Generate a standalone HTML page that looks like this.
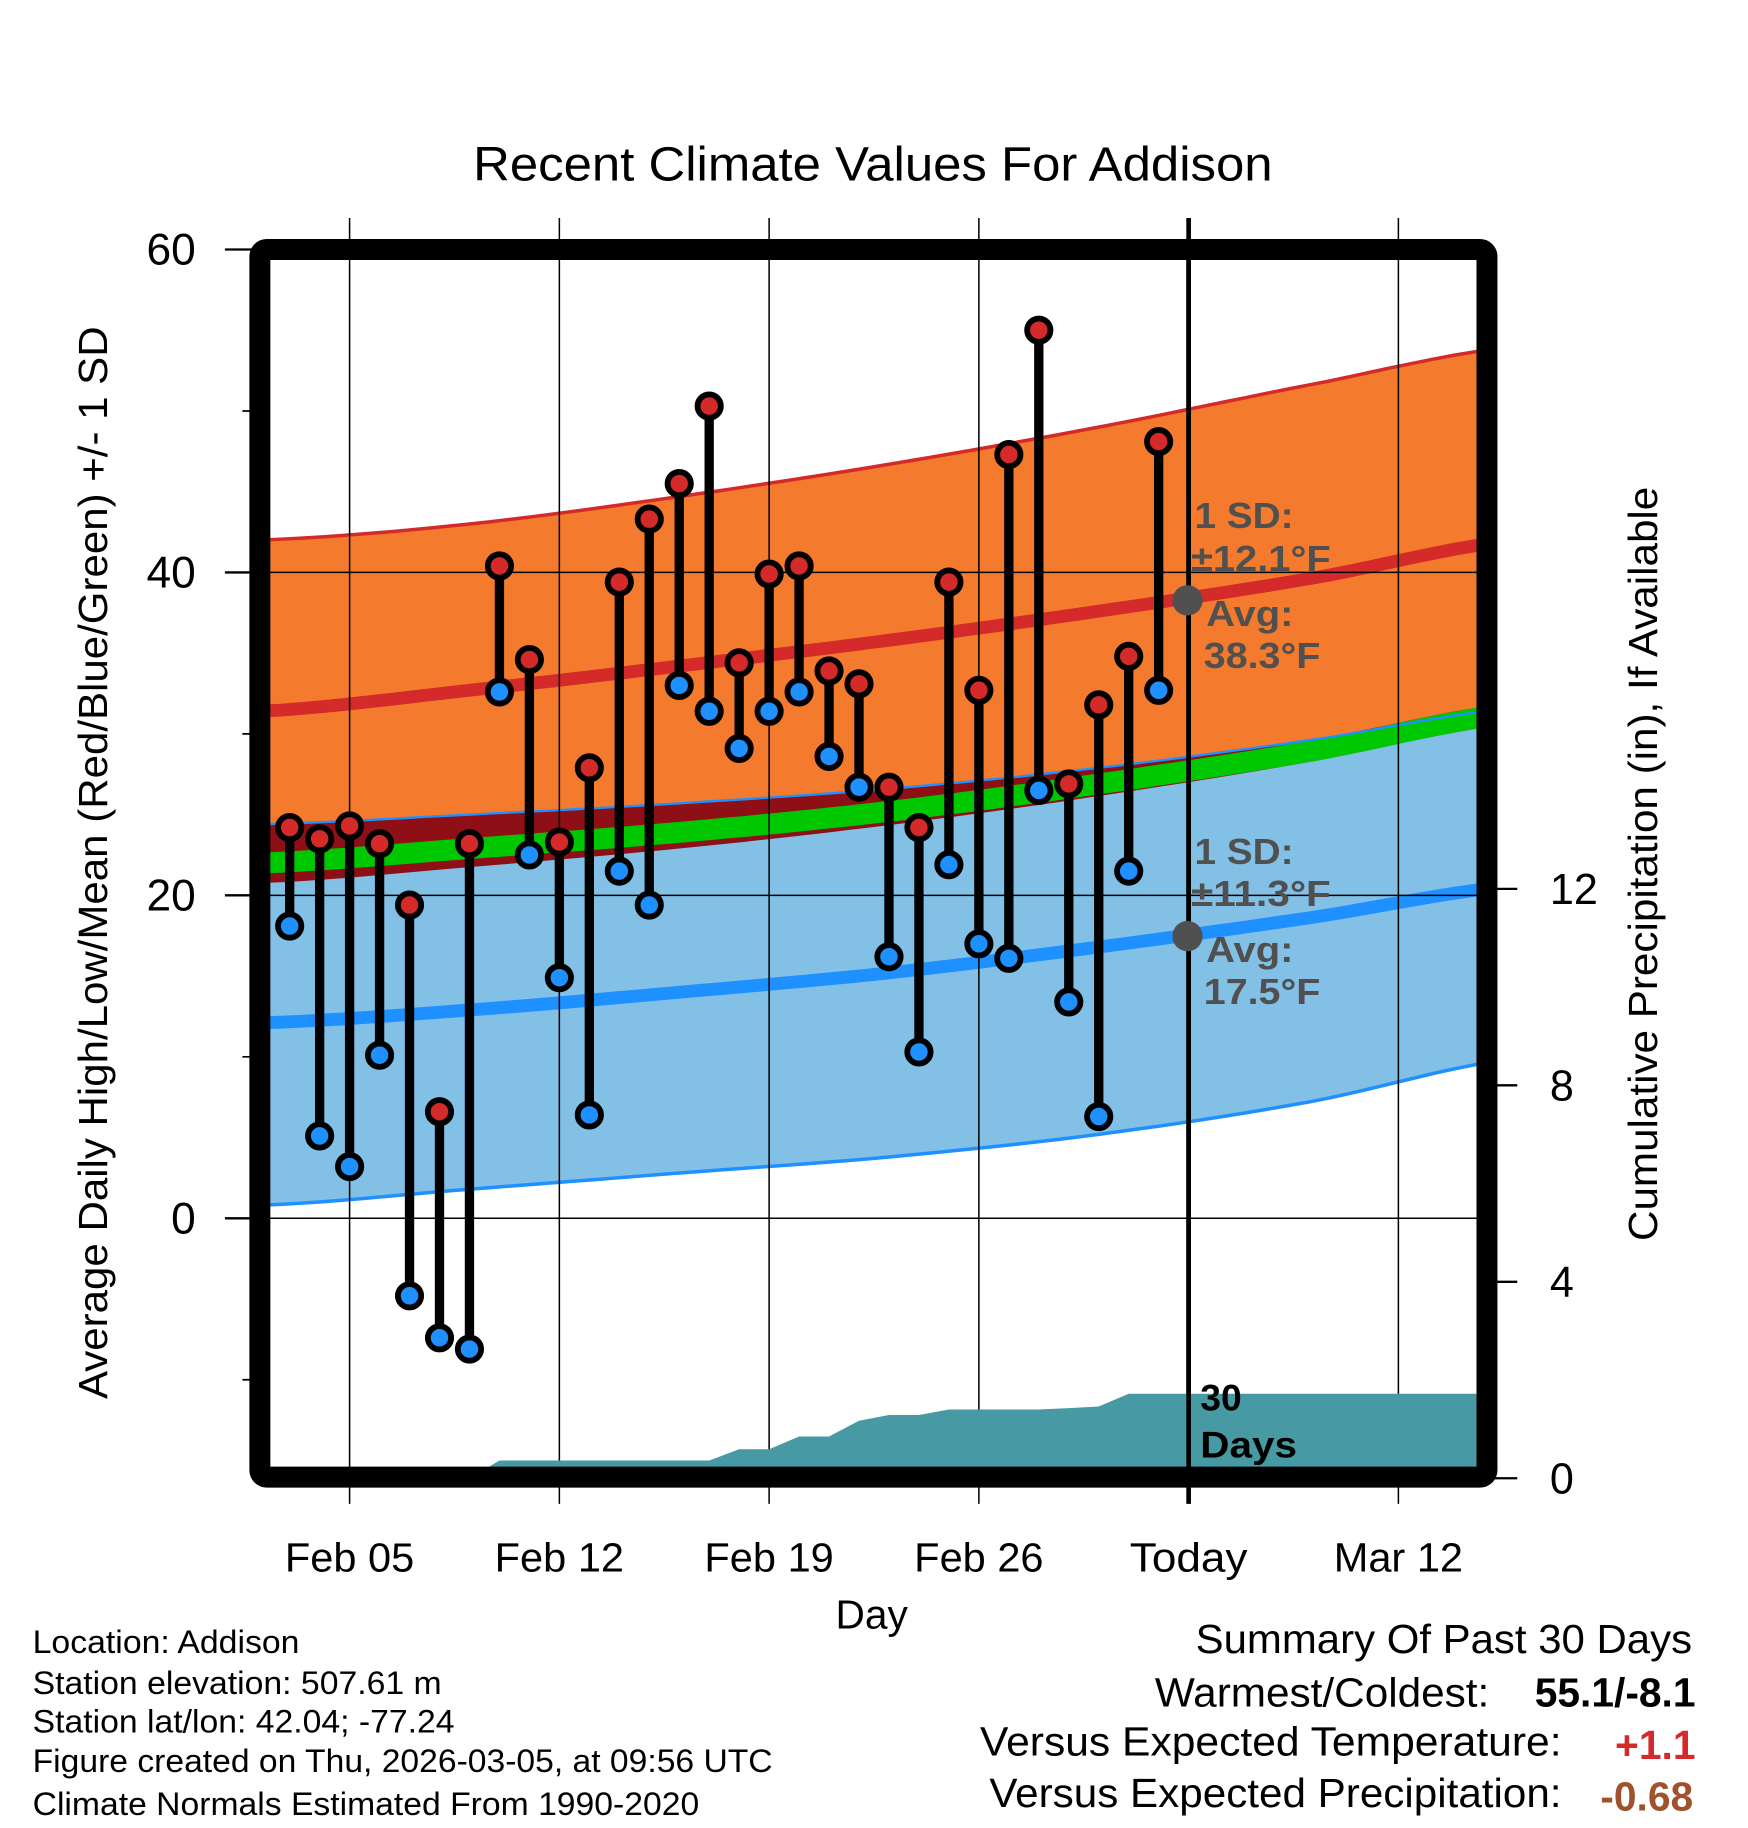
<!DOCTYPE html>
<html><head><meta charset="utf-8"><style>
html,body{margin:0;padding:0;background:#fff;}
svg{display:block;}
text{font-family:"Liberation Sans",Arial,sans-serif;}
</style></head><body>
<svg id="chart" width="1748" height="1828" viewBox="0 0 1500 1568" preserveAspectRatio="none" xmlns="http://www.w3.org/2000/svg">
<defs><clipPath id="plotClip"><rect x="231" y="223" width="1036" height="1036"/></clipPath></defs>
<g id="bands" clip-path="url(#plotClip)"></g>
<g id="grid"></g>
<g id="precip" clip-path="url(#plotClip)"></g>
<g id="marks"></g>
<g id="annot"></g>
<g id="axes"></g>
</svg>
<script>
// ---- data ----
const dayLabels = ["Feb 05","Feb 12","Feb 19","Feb 26","Today","Mar 12"];
const obsDays = [-2,-1,0,1,2,3,4,5,6,7,8,9,10,11,12,13,14,15,16,17,18,19,20,21,22,23,24,25,26,27];
const highs = [24.2,23.5,24.3,23.2,19.4,6.6,23.2,40.4,34.6,23.3,27.9,39.4,43.3,45.5,50.3,34.4,39.9,40.4,33.9,33.1,26.7,24.2,39.4,32.7,47.3,55.0,26.9,31.8,34.8,48.1];
const lows  = [18.1,5.1,3.2,10.1,-4.8,-7.4,-8.1,32.6,22.5,14.9,6.4,21.5,19.4,33.0,31.4,29.1,31.4,32.6,28.6,26.7,16.2,10.3,21.9,17.0,16.1,26.5,13.4,6.3,21.5,32.7];
const precipCum = [0,0,0,0,0,0,0,0.36,0.36,0.36,0.36,0.36,0.36,0.36,0.36,0.59,0.59,0.85,0.85,1.17,1.29,1.29,1.40,1.40,1.40,1.40,1.43,1.46,1.72,1.72];
const normDays = [-3,4,11,18,25,32,39];
const upperHigh = [42.0,43.0,44.7,46.7,49.0,51.6,54.0];
const avgHigh   = [31.4,32.7,34.2,35.8,37.6,39.6,42.0];
const upperLow  = [24.4,25.0,25.7,26.6,27.9,29.6,31.6];
const avgMean   = [22.0,22.9,23.9,25.2,26.9,28.9,31.3];
const meanBandGap = [0.6,0.5,0.35,0.2,0.1,0,0];
const avgLow    = [12.1,12.9,14.0,15.2,16.8,18.6,20.6];
const lowerLow  = [0.8,1.8,2.8,3.8,5.2,7.2,9.9];
const yTicks = [0,20,40,60];
const yMinor = [-10,10,30,50];
const pTicks = [0,4,8,12];

// ---- axes ----
const X = d => 300 + d*25.714;
const Y = t => 1045 - t*13.85;
const P = p => 1268 - p*42.13;
const NS = "http://www.w3.org/2000/svg";
function mk(tag, parent, attrs){const e=document.createElementNS(NS,tag);for(const k in attrs)e.setAttribute(k,attrs[k]);parent.appendChild(e);return e;}
const bands=document.getElementById('bands'),grid=document.getElementById('grid'),precip=document.getElementById('precip'),marks=document.getElementById('marks'),annot=document.getElementById('annot'),axes=document.getElementById('axes');

function smooth(arr){
  const pts=[];
  for(let i=0;i<normDays.length-1;i++){
    const p0=arr[Math.max(0,i-1)],p1=arr[i],p2=arr[i+1],p3=arr[Math.min(arr.length-1,i+2)];
    for(let s=0;s<10;s++){const u=s/10;
      const v=0.5*((2*p1)+(-p0+p2)*u+(2*p0-5*p1+4*p2-p3)*u*u+(-p0+3*p1-3*p2+p3)*u*u*u);
      pts.push([X(normDays[i]+(normDays[i+1]-normDays[i])*u),v]);}
  }
  pts.push([X(normDays[normDays.length-1]),arr[arr.length-1]]);
  return pts;
}
function bandPath(top,bot){const a=smooth(top),b=smooth(bot).reverse();
  return 'M'+a.map(p=>p[0].toFixed(1)+','+Y(p[1]).toFixed(1)).join('L')+'L'+b.map(p=>p[0].toFixed(1)+','+Y(p[1]).toFixed(1)).join('L')+'Z';}
function linePath(arr){return 'M'+smooth(arr).map(p=>p[0].toFixed(1)+','+Y(p[1]).toFixed(1)).join('L');}
const off=(arr,d)=>arr.map(v=>v+d);

let e;
e=mk('path',bands,{d:bandPath(upperHigh,lowerLow),fill:'#f47a2d'});

e=mk('path',bands,{d:bandPath(upperLow,lowerLow),fill:'#82c0e6'});

const redBot = avgMean.map((v,i)=>Math.min(v-0.65-meanBandGap[i],upperLow[i]));
e=mk('path',bands,{d:bandPath(upperLow.map((v,i)=>Math.max(v,avgMean[i]+0.65)),redBot),fill:'#8e0f16'});

e=mk('path',bands,{d:bandPath(off(avgMean,0.65),off(avgMean,-0.65)),fill:'#00c800'});

e=mk('path',bands,{d:linePath(upperLow),fill:'none',stroke:'#1e90ff','stroke-width':2});

e=mk('path',bands,{d:linePath(upperHigh),fill:'none',stroke:'#d42a2a','stroke-width':3});

e=mk('path',bands,{d:linePath(lowerLow),fill:'none',stroke:'#1e90ff','stroke-width':3});

e=mk('path',bands,{d:linePath(avgHigh),fill:'none',stroke:'#d42a2a','stroke-width':11});

e=mk('path',bands,{d:linePath(avgLow),fill:'none',stroke:'#1e90ff','stroke-width':11});


// grid
dayLabels.forEach((lab,i)=>{const x=X(i*7);
  const g=mk('line',grid,{x1:x,x2:x,y1:187,y2:1290,stroke:'#000','stroke-width':i===4?4:1.3});
  
  const t=mk('text',axes,{x:x,y:1348,'font-size':35,'text-anchor':'middle',textLength:(lab==='Today'?101:111),lengthAdjust:'spacingAndGlyphs'});t.textContent=lab;
  
});
yTicks.forEach(v=>{const y=Y(v);
  if(v<60){const g=mk('line',grid,{x1:231,x2:1267,y1:y,y2:y,stroke:'#000','stroke-width':1.3});
  }
  const tk=mk('line',axes,{x1:193,x2:223,y1:y,y2:y,stroke:'#000','stroke-width':2});
  
  const t=mk('text',axes,{x:168,y:y+13,'font-size':38,'text-anchor':'end'});t.textContent=v;
  
});
yMinor.forEach(v=>{const y=Y(v);
  const tk=mk('line',axes,{x1:208,x2:223,y1:y,y2:y,stroke:'#000','stroke-width':1.5});
  });
pTicks.forEach(v=>{const y=P(v);
  const tk=mk('line',axes,{x1:1276,x2:1302,y1:y,y2:y,stroke:'#000','stroke-width':2});
  
  const t=mk('text',axes,{x:1330,y:y+13,'font-size':37}); t.textContent=v;
  });

// precip area
let pd='M231,1268L'+X(obsDays[0]).toFixed(1)+','+P(precipCum[0]).toFixed(1);
obsDays.forEach((d,i)=>{pd+='L'+X(d).toFixed(1)+','+P(precipCum[i]).toFixed(1);});
pd+='L1267,'+P(precipCum[precipCum.length-1]).toFixed(1)+'L1267,1268Z';
e=mk('path',precip,{d:pd,fill:'#4799a3'});


// today line
e=mk('line',marks,{x1:X(28),x2:X(28),y1:223,y2:1259,stroke:'#000','stroke-width':4});


// stems and markers
obsDays.forEach((d,i)=>{const x=X(d);
  const s=mk('line',marks,{x1:x,x2:x,y1:Y(highs[i]),y2:Y(lows[i]),stroke:'#000','stroke-width':8});
  
});
obsDays.forEach((d,i)=>{const x=X(d);
  const h=mk('circle',marks,{cx:x,cy:Y(highs[i]),r:10,fill:'#d42a2a',stroke:'#000','stroke-width':5});
  
  const l=mk('circle',marks,{cx:x,cy:Y(lows[i]),r:10,fill:'#1e90ff',stroke:'#000','stroke-width':5});
  
});
</script>
<script>
(function(){
const NS="http://www.w3.org/2000/svg";
const annot=document.getElementById('annot'),axes=document.getElementById('axes');
function mk(tag,parent,attrs,txt){const e=document.createElementNS(NS,tag);for(const k in attrs)e.setAttribute(k,attrs[k]);if(txt!==undefined)e.textContent=txt;parent.appendChild(e);return e;}
let e;
e=mk('circle',annot,{cx:1019,cy:515,r:13,fill:'#505050'});
e=mk('circle',annot,{cx:1019,cy:803,r:13,fill:'#505050'});
const lbl=[["1 SD:",1025,453,85],["±12.1°F",1022,490,120],["Avg:",1035,537,75],["38.3°F",1033,573,100],["1 SD:",1025,741,85],["±11.3°F",1022,777,120],["Avg:",1035,825,75],["17.5°F",1033,861,100]];
lbl.forEach(l=>{e=mk('text',annot,{x:l[1],y:l[2],'font-size':31,'font-weight':'bold',fill:'#505050',textLength:l[3],lengthAdjust:'spacingAndGlyphs'},l[0]);
  });
e=mk('text',annot,{x:1030,y:1210,'font-size':32,'font-weight':'bold'},'30');
e=mk('text',annot,{x:1030,y:1250,'font-size':32,'font-weight':'bold',textLength:83,lengthAdjust:'spacingAndGlyphs'},'Days');
e=mk('rect',axes,{x:223,y:214,width:1053,height:1053,fill:'none',stroke:'#000','stroke-width':18,rx:6});

e=mk('text',axes,{x:749,y:155,'font-size':41,'text-anchor':'middle',textLength:686,lengthAdjust:'spacingAndGlyphs'},'Recent Climate Values For Addison');
e=mk('text',axes,{x:748,y:1397,'font-size':35,'text-anchor':'middle',textLength:62,lengthAdjust:'spacingAndGlyphs'},'Day');
e=mk('text',axes,{x:0,y:0,'font-size':35,'text-anchor':'middle',textLength:920,lengthAdjust:'spacingAndGlyphs',transform:'translate(92,740) rotate(-90)'},'Average Daily High/Low/Mean (Red/Blue/Green) +/- 1 SD');
e=mk('text',axes,{x:0,y:0,'font-size':35,'text-anchor':'middle',textLength:647,lengthAdjust:'spacingAndGlyphs',transform:'translate(1422,741) rotate(-90)'},'Cumulative Precipitation (in), If Available');
const info=[["Location: Addison",1418,229],["Station elevation: 507.61 m",1453,351],["Station lat/lon: 42.04; -77.24",1486,362],["Figure created on Thu, 2026-03-05, at 09:56 UTC",1520,635],["Climate Normals Estimated From 1990-2020",1557,572]];
info.forEach(l=>{e=mk('text',axes,{x:28,y:l[1],'font-size':28,textLength:l[2],lengthAdjust:'spacingAndGlyphs'},l[0]);});
e=mk('text',axes,{x:1452,y:1418,'font-size':35,'text-anchor':'end',textLength:426,lengthAdjust:'spacingAndGlyphs'},'Summary Of Past 30 Days');
e=mk('text',axes,{x:1278,y:1464,'font-size':35,'text-anchor':'end',textLength:287,lengthAdjust:'spacingAndGlyphs'},'Warmest/Coldest:');
e=mk('text',axes,{x:1455,y:1464,'font-size':35,'font-weight':'bold','text-anchor':'end',textLength:138,lengthAdjust:'spacingAndGlyphs'},'55.1/-8.1');
e=mk('text',axes,{x:1340,y:1506,'font-size':35,'text-anchor':'end',textLength:499,lengthAdjust:'spacingAndGlyphs'},'Versus Expected Temperature:');
e=mk('text',axes,{x:1455,y:1509,'font-size':35,'font-weight':'bold','fill':'#d42a2a','text-anchor':'end'},'+1.1');
e=mk('text',axes,{x:1340,y:1550,'font-size':35,'text-anchor':'end',textLength:491,lengthAdjust:'spacingAndGlyphs'},'Versus Expected Precipitation:');
e=mk('text',axes,{x:1453,y:1553,'font-size':35,'font-weight':'bold','fill':'#a0522d','text-anchor':'end'},'-0.68');
})();
</script>
</body></html>
